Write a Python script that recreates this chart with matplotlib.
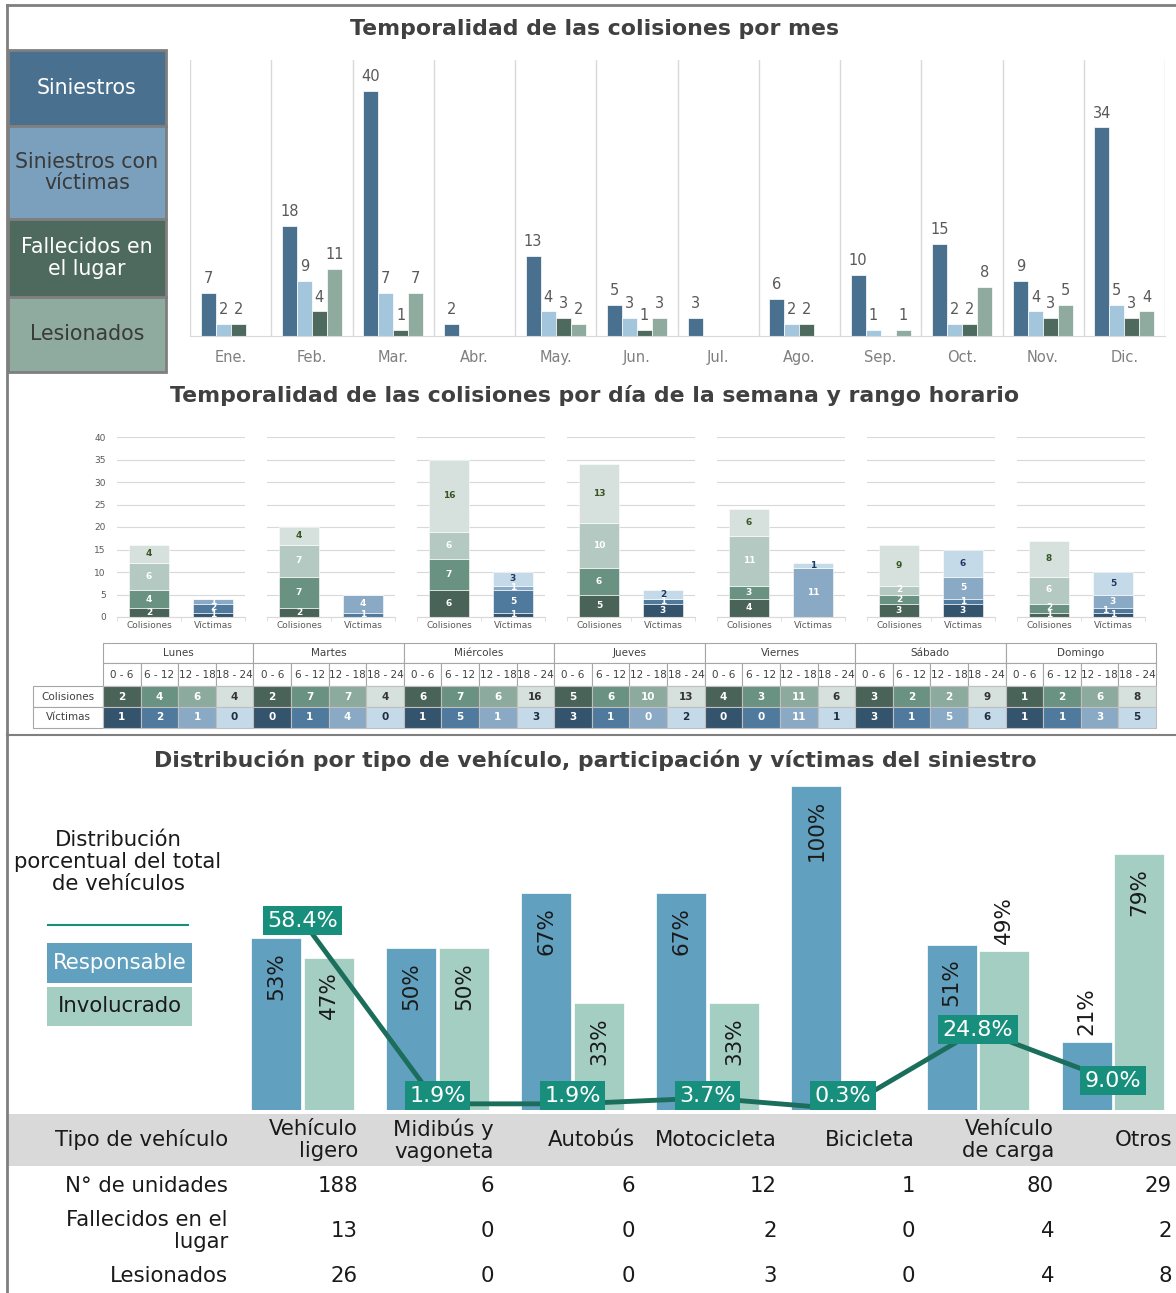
import matplotlib.pyplot as plt
from matplotlib.patches import Rectangle
from matplotlib.lines import Line2D
import numpy as np

# --- datos: colisiones por mes ---
months = ['Ene.', 'Feb.', 'Mar.', 'Abr.', 'May.', 'Jun.', 'Jul.', 'Ago.', 'Sep.', 'Oct.', 'Nov.', 'Dic.']
siniestros = [7, 18, 40, 2, 13, 5, 3, 6, 10, 15, 9, 34]
siniestros_victimas = [2, 9, 7, 0, 4, 3, 0, 2, 1, 2, 4, 5]
fallecidos_mes = [2, 4, 1, 0, 3, 1, 0, 2, 0, 2, 3, 3]
lesionados_mes = [0, 11, 7, 0, 2, 3, 0, 0, 1, 8, 5, 4]
month_legend = ['Siniestros', 'Siniestros con\nvíctimas', 'Fallecidos en\nel lugar', 'Lesionados']

# --- datos: día de la semana y rango horario ---
days = ['Lunes', 'Martes', 'Miércoles', 'Jueves', 'Viernes', 'Sábado', 'Domingo']
hour_ranges = ['0 - 6', '6 - 12', '12 - 18', '18 - 24']
colisiones_0_6 = [2, 2, 6, 5, 4, 3, 1]
colisiones_6_12 = [4, 7, 7, 6, 3, 2, 2]
colisiones_12_18 = [6, 7, 6, 10, 11, 2, 6]
colisiones_18_24 = [4, 4, 16, 13, 6, 9, 8]
victimas_0_6 = [1, 0, 1, 3, 0, 3, 1]
victimas_6_12 = [2, 1, 5, 1, 0, 1, 1]
victimas_12_18 = [1, 4, 1, 0, 11, 5, 3]
victimas_18_24 = [0, 0, 3, 2, 1, 6, 5]

# --- datos: tipo de vehiculo ---
vehicle_types = ['Vehículo\nligero', 'Midibús y\nvagoneta', 'Autobús', 'Motocicleta',
                 'Bicicleta', 'Vehículo\nde carga', 'Otros']
responsable = [53, 50, 67, 67, 100, 51, 21]
involucrado = [47, 50, 33, 33, 0, 49, 79]
pct_total = [58.4, 1.9, 1.9, 3.7, 0.3, 24.8, 9.0]
unidades = [188, 6, 6, 12, 1, 80, 29]
fallecidos_veh = [13, 0, 0, 2, 0, 4, 2]
lesionados_veh = [26, 0, 0, 3, 0, 4, 8]

W, H = 1176, 1293
fig = plt.figure(figsize=(W / 100, H / 100), dpi=100)
plt.rcParams['font.family'] = ['DejaVu Sans']


def box(x0, y0, x1, y1):
    # pixel box (top-left origin) -> figure fraction
    return [x0 / W, 1 - y1 / H, (x1 - x0) / W, (y1 - y0) / H]


def fx(x):
    return x / W


def fy(y):
    return 1 - y / H


GRAY = '#7F7F7F'
TITLE_FS = 15.8
# outer frame and separator
fig.add_artist(Line2D([fx(7), 1], [fy(5), fy(5)], color=GRAY, lw=2))
fig.add_artist(Line2D([fx(7), fx(7)], [fy(5), 0], color=GRAY, lw=2))
fig.add_artist(Line2D([fx(7), 1], [fy(735), fy(735)], color=GRAY, lw=1.5))

# ================= Seccion 1 =================
fig.text(fx(595), fy(29), 'Temporalidad de las colisiones por mes', ha='center', va='center',
         fontsize=TITLE_FS, fontweight='bold', color='#404040')

legend_cols = ['#4A7090', '#7AA0BE', '#4E6A5E', '#8FAA9F']
legend_txt = ['white', '#3A3A3A', 'white', '#3A3A3A']
legend_rows = [(50, 126), (126, 219), (219, 297), (297, 372)]
for (y0, y1), c, tc, lab in zip(legend_rows, legend_cols, legend_txt, month_legend):
    fig.add_artist(Rectangle((fx(8), fy(y1)), fx(166) - fx(8), fy(y0) - fy(y1),
                             facecolor=c, edgecolor=GRAY, lw=2))
    fig.text(fx(87), fy((y0 + y1) / 2), lab, ha='center', va='center', fontsize=14.8,
             color=tc, linespacing=1.1)

ax1 = fig.add_axes(box(190, 60, 1165, 336))
series = [siniestros, siniestros_victimas, fallecidos_mes, lesionados_mes]
bar_cols = ['#4A7090', '#A3C6DC', '#4E6A5E', '#8FAA9F']
bw = 0.185
xm = np.arange(len(months)) + 0.5
for k, (vals, c) in enumerate(zip(series, bar_cols)):
    pos = xm + (k - 1.5) * bw
    ax1.bar(pos, vals, bw, color=c, edgecolor='white', linewidth=0.5, zorder=2)
    for p, v in zip(pos, vals):
        if v:
            ax1.annotate(str(v), (p, v), xytext=(0, 5), textcoords='offset points',
                         ha='center', va='bottom', fontsize=10.5, color='#595959')
for g in range(len(months) + 1):
    ax1.axvline(g, color='#D9D9D9', lw=1, zorder=1)
ax1.set_xlim(0, len(months))
ax1.set_ylim(0, 45)
ax1.set_xticks(xm)
ax1.set_xticklabels(months, fontsize=10.5, color='#7F7F7F')
ax1.tick_params(axis='x', length=0, pad=10)
ax1.set_yticks([])
for s in ['top', 'left', 'right']:
    ax1.spines[s].set_visible(False)
ax1.spines['bottom'].set_color('#D9D9D9')

# ================= Seccion 2 =================
fig.text(fx(595), fy(396), 'Temporalidad de las colisiones por día de la semana y rango horario',
         ha='center', va='center', fontsize=TITLE_FS, fontweight='bold', color='#404040')

col_ranges = [colisiones_0_6, colisiones_6_12, colisiones_12_18, colisiones_18_24]
vic_ranges = [victimas_0_6, victimas_6_12, victimas_12_18, victimas_18_24]
col_bar_cols = ['#4A6358', '#6A9282', '#B3C9C1', '#D6E1DD']
vic_bar_cols = ['#34536D', '#4F7A9E', '#8AA9C4', '#C5DAE8']
col_txt = ['white', 'white', 'white', '#375623']
vic_txt = ['white', 'white', 'white', '#1F3864']

for i, day in enumerate(days):
    x0 = 117 + 150 * i
    ax = fig.add_axes(box(x0, 437, x0 + 128, 617))
    for xpos, ranges, cols, tcols in [(0, col_ranges, col_bar_cols, col_txt),
                                      (1, vic_ranges, vic_bar_cols, vic_txt)]:
        bottom = 0
        last_y = None
        for r, c, tc in zip(ranges, cols, tcols):
            v = r[i]
            ax.bar(xpos, v, 0.62, bottom=bottom, color=c, edgecolor='white', linewidth=0.4, zorder=2)
            if v:
                ty = bottom + v / 2
                tx = xpos
                # tiny stacked segments: nudge the label sideways so it stays readable
                if last_y is not None and ty - last_y < 1.4:
                    tx = xpos - 0.12
                ax.text(tx, ty, str(v), ha='center', va='center', fontsize=6.5,
                        fontweight='bold', color=tc, zorder=3)
                last_y = ty
            bottom += v
    ax.set_xlim(-0.5, 1.5)
    ax.set_ylim(0, 40)
    ax.set_yticks(range(0, 41, 5))
    ax.grid(axis='y', color='#D9D9D9', lw=0.8, zorder=0)
    ax.set_axisbelow(True)
    ax.set_xticks([0, 1])
    ax.set_xticklabels(['Colisiones', 'Víctimas'], fontsize=6.5, color='#595959')
    ax.set_xticks([-0.5, 0.5, 1.5], minor=True)
    ax.tick_params(axis='x', which='major', length=0, pad=3)
    ax.tick_params(axis='x', which='minor', length=3, color='#D9D9D9')
    if i == 0:
        ax.tick_params(axis='y', length=0, labelsize=6.5, labelcolor='#595959', pad=8)
    else:
        ax.tick_params(axis='y', length=0, labelleft=False)
    for s in ['top', 'left', 'right']:
        ax.spines[s].set_visible(False)
    ax.spines['bottom'].set_color('#D9D9D9')

# tabla del rango horario
axt = fig.add_axes(box(30, 640, 1160, 732))
axt.set_xlim(30, 1160)
axt.set_ylim(732, 640)
axt.axis('off')
cw = (1156 - 103) / 28
edge = '#A6A6A6'
tbl_col = ['#4A6358', '#6A9282', '#8DAA9E', '#D6E1DD']
tbl_vic = ['#34536D', '#4F7A9E', '#8AA9C4', '#C5DAE8']
tbl_col_txt = ['white', 'white', 'white', '#333333']
tbl_vic_txt = ['white', 'white', 'white', '#1F2D3D']
for lab, (y0, y1) in [('Colisiones', (686, 707)), ('Víctimas', (707, 728))]:
    axt.add_patch(Rectangle((33, y0), 70, y1 - y0, facecolor='white', edgecolor=edge, lw=0.8))
    axt.text(68, (y0 + y1) / 2, lab, ha='center', va='center', fontsize=7.5, color='#404040')
for i, day in enumerate(days):
    dx = 103 + 4 * cw * i
    axt.add_patch(Rectangle((dx, 643), 4 * cw, 20, facecolor='white', edgecolor=edge, lw=0.8))
    axt.text(dx + 2 * cw, 653, day, ha='center', va='center', fontsize=7.5, color='#404040')
    for j, rng in enumerate(hour_ranges):
        cx = dx + j * cw
        axt.add_patch(Rectangle((cx, 663), cw, 23, facecolor='white', edgecolor=edge, lw=0.8))
        axt.text(cx + cw / 2, 674.5, rng, ha='center', va='center', fontsize=7.5, color='#404040')
        axt.add_patch(Rectangle((cx, 686), cw, 21, facecolor=tbl_col[j], edgecolor='#BFBFBF', lw=0.8))
        axt.text(cx + cw / 2, 696.5, str(col_ranges[j][i]), ha='center', va='center', fontsize=7.5,
                 fontweight='bold', color=tbl_col_txt[j])
        axt.add_patch(Rectangle((cx, 707), cw, 21, facecolor=tbl_vic[j], edgecolor='#BFBFBF', lw=0.8))
        axt.text(cx + cw / 2, 717.5, str(vic_ranges[j][i]), ha='center', va='center', fontsize=7.5,
                 fontweight='bold', color=tbl_vic_txt[j])

# ================= Seccion 3 =================
fig.text(fx(595), fy(760), 'Distribución por tipo de vehículo, participación y víctimas del siniestro',
         ha='center', va='center', fontsize=TITLE_FS, fontweight='bold', color='#404040')

BIG = 15.3
fig.text(fx(118), fy(862), 'Distribución\nporcentual del total\nde vehículos', ha='center', va='center',
         fontsize=BIG, color='#1A1A1A', linespacing=1.15)
fig.add_artist(Line2D([fx(48), fx(188)], [fy(925), fy(925)], color='#178F7C', lw=1.5))
fig.add_artist(Rectangle((fx(47), fy(983)), fx(192) - fx(47), fy(943) - fy(983),
                         facecolor='#62A0C0', edgecolor='none'))
fig.text(fx(119.5), fy(963), 'Responsable', ha='center', va='center', fontsize=BIG, color='white')
fig.add_artist(Rectangle((fx(47), fy(1026)), fx(192) - fx(47), fy(987) - fy(1026),
                         facecolor='#A5CEC3', edgecolor='none'))
fig.text(fx(119.5), fy(1006.5), 'Involucrado', ha='center', va='center', fontsize=BIG, color='#1A1A1A')

ax3 = fig.add_axes(box(235, 776, 1176, 1110))
n = len(vehicle_types)
xv = np.arange(n)
bw3 = 0.37
off = 0.195
ax3.bar(xv - off, responsable, bw3, color='#62A0C0', edgecolor='white', linewidth=0.5, zorder=2)
ax3.bar(xv + off, involucrado, bw3, color='#A5CEC3', edgecolor='white', linewidth=0.5, zorder=2)
label_outside = [(5, 1), (6, 0)]
for s, vals in enumerate([responsable, involucrado]):
    for i, v in enumerate(vals):
        if not v:
            continue
        xpos = i - off if s == 0 else i + off
        if (i, s) in label_outside:
            ax3.annotate(f'{v}%', (xpos, v), xytext=(0, 5), textcoords='offset points',
                         ha='center', va='bottom', rotation=90, fontsize=15.5, color='#1A1A1A', zorder=3)
        else:
            ax3.annotate(f'{v}%', (xpos, v), xytext=(0, -10), textcoords='offset points',
                         ha='center', va='top', rotation=90, fontsize=15.5, color='#1A1A1A', zorder=3)
ax3.plot(xv, pct_total, color='#1B6E5B', lw=3.5, zorder=4)
for i, v in enumerate(pct_total):
    ax3.text(i, max(v, 4.4), f'{v:.1f}%', ha='center', va='center', fontsize=16, color='white',
             zorder=5, bbox=dict(boxstyle='square,pad=0.2', fc='#178F7C', ec='none'))
ax3.set_xlim(-0.5, n - 0.5 - 4.5 / 135)
ax3.set_ylim(0, 103)
ax3.axis('off')

# tabla inferior
fig.add_artist(Rectangle((fx(8), fy(1166)), 1 - fx(8), fy(1114) - fy(1166),
                         facecolor='#D9D9D9', edgecolor='none', zorder=0))
col_right = [358, 494, 635, 777, 915, 1054, 1172]
row_specs = [('Tipo de vehículo', 1140, vehicle_types),
             ('N° de unidades', 1186, unidades),
             ('Fallecidos en el\nlugar', 1231, fallecidos_veh),
             ('Lesionados', 1276, lesionados_veh)]
for lab, yc, vals in row_specs:
    fig.text(fx(228), fy(yc), lab, ha='right', va='center', fontsize=BIG, color='#1A1A1A',
             multialignment='right', linespacing=1.1)
    for xr, v in zip(col_right, vals):
        fig.text(fx(xr), fy(yc), str(v), ha='right', va='center', fontsize=BIG, color='#1A1A1A',
                 multialignment='right', linespacing=1.1)

fig.savefig('out.png', dpi=100)
